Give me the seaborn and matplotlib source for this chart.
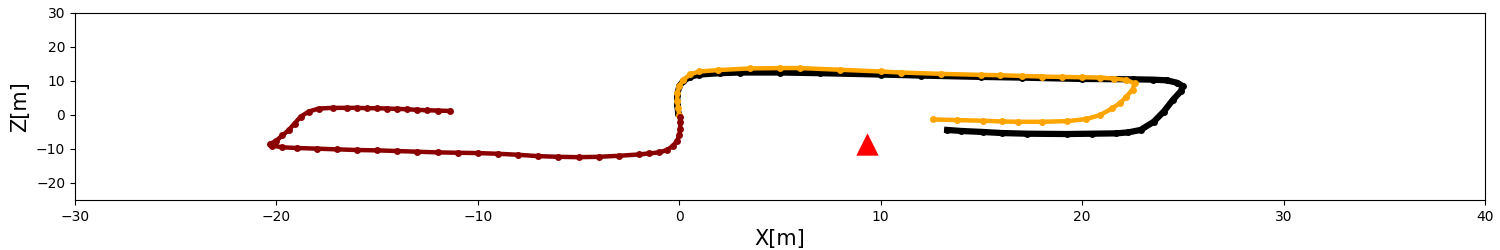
import numpy as np
import pandas as pd
import matplotlib
matplotlib.use("Agg")
import matplotlib.pyplot as plt
import seaborn as sns

# ---------------------------------------------------------
# Trajectory waypoints (X, Z in metres)
# ---------------------------------------------------------
red_x = [0.05, 0.05, 0.05, 0.0, -0.1, -0.3, -0.6, -1.0, -1.5, -2.0, -3.0, -4.0,
         -5.0, -6.0, -7.0, -8.0, -9.0, -10.0, -11.0, -12.0, -13.0, -14.0, -15.0,
         -16.0, -17.0, -18.0, -19.0, -19.7, -20.2, -20.3, -20.0, -19.7, -19.4,
         -19.1, -18.8, -18.4, -17.9, -17.2, -16.5, -16.0, -15.5, -15.0, -14.5,
         -14.0, -13.5, -13.0, -12.5, -12.0, -11.4]
red_z = [-0.6, -2.0, -4.0, -6.0, -7.5, -9.0, -10.3, -11.0, -11.3, -11.6, -12.0,
         -12.3, -12.4, -12.3, -12.1, -11.7, -11.4, -11.2, -11.1, -11.0, -10.8,
         -10.6, -10.4, -10.3, -10.1, -9.9, -9.7, -9.5, -9.0, -8.5, -7.5, -6.0,
         -4.5, -2.5, -0.5, 1.0, 1.9, 2.1, 2.1, 2.1, 2.0, 2.0, 1.9, 1.8, 1.7, 1.5,
         1.4, 1.3, 1.2]

orange_x = [0.0, -0.05, -0.1, -0.1, 0.0, 0.2, 0.55, 1.0, 1.9, 3.5, 5.0, 6.0, 8.0,
            10.0, 11.0, 13.0, 15.0, 15.9, 17.0, 18.0, 19.0, 20.0, 20.9, 21.6,
            22.2, 22.6, 22.5, 22.2, 21.9, 21.5, 20.9, 20.2, 19.25, 18.0, 16.8,
            16.0, 15.1, 13.8, 12.6]
orange_z = [0.0, 2.0, 4.0, 6.4, 8.5, 10.3, 12.0, 12.8, 13.2, 13.7, 13.8, 13.8,
            13.3, 12.8, 12.5, 12.1, 11.8, 11.7, 11.5, 11.3, 11.2, 11.1, 11.0,
            10.7, 10.3, 9.3, 7.5, 5.4, 3.6, 2.0, 0.0, -1.2, -1.8, -2.0, -2.0,
            -1.9, -1.7, -1.5, -1.3]

black_x = [-0.05, -0.1, -0.1, 0.0, 0.2, 0.55, 1.0, 2.0, 3.0, 5.0, 7.0, 10.0,
           12.0, 15.0, 17.0, 20.0, 22.5, 23.5, 24.2, 24.7, 25.0, 24.9, 24.5,
           24.05, 23.55, 22.9, 22.3, 21.7, 20.5, 19.25, 17.25, 16.0, 15.1, 14.0,
           13.3]
black_z = [0.5, 3.0, 6.0, 8.5, 10.0, 11.3, 11.9, 12.3, 12.5, 12.5, 12.3, 11.9,
           11.6, 11.2, 11.0, 10.6, 10.5, 10.4, 10.2, 9.5, 8.5, 7.0, 4.4, 1.0,
           -2.0, -4.4, -5.1, -5.4, -5.5, -5.6, -5.5, -5.3, -5.0, -4.7, -4.4]

marker_x = [9.3]
marker_z = [-8.5]

# ---------------------------------------------------------
# Plot
# ---------------------------------------------------------
fig = plt.figure(figsize=(15, 2.5), dpi=100)
ax = fig.add_axes([0.05, 0.2, 0.94, 0.748])

tracks = [
    (black_x, black_z, "black", 4.5, 5.0),
    (orange_x, orange_z, "orange", 3.2, 5.0),
    (red_x, red_z, "darkred", 3.2, 5.0),
]
for xs, zs, color, lw, ms in tracks:
    df = pd.DataFrame({"x": xs, "z": zs})
    sns.lineplot(data=df, x="x", y="z", sort=False, estimator=None, ax=ax,
                 color=color, linewidth=lw, marker="o", markersize=ms,
                 markeredgewidth=0)

sns.scatterplot(x=marker_x, y=marker_z, ax=ax, marker="^", color="red",
                s=260, linewidth=0, zorder=5)

ax.set_xlim(-30, 40)
ax.set_ylim(-25, 30)
ax.set_xlabel("X[m]", fontsize=15)
ax.set_ylabel("Z[m]", fontsize=15)

fig.savefig("out.png", dpi=100)
plt.close(fig)
